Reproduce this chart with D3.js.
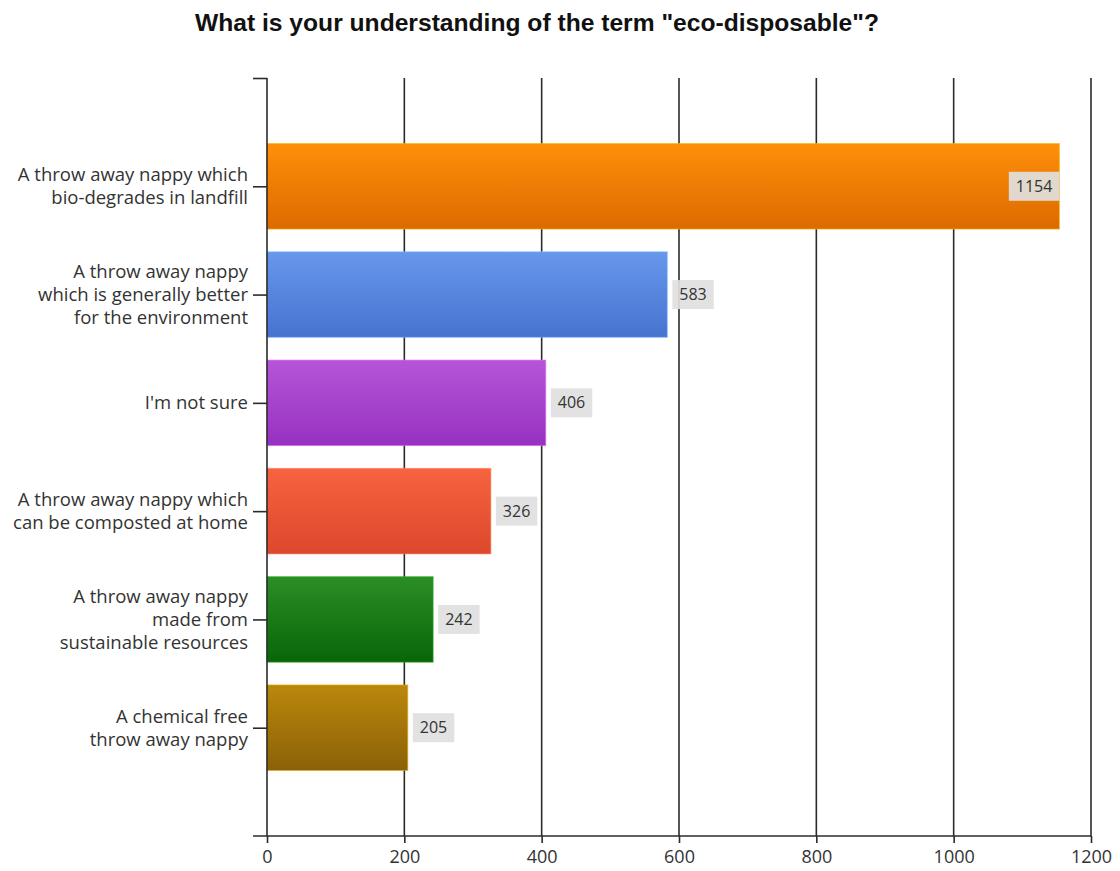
<!DOCTYPE html>
<html>
<head>
<meta charset="utf-8">
<script src="https://cdn.jsdelivr.net/npm/d3@7/dist/d3.min.js"></script>
<style>
  html, body { margin: 0; padding: 0; background: #ffffff; }
  svg { display: block; }
</style>
</head>
<body>
<script>
// Survey answers (bars, top to bottom)
const categories = [
  ["A throw away nappy which", "bio-degrades in landfill"],
  ["A throw away nappy", "which is generally better", "for the environment"],
  ["I'm not sure"],
  ["A throw away nappy which", "can be composted at home"],
  ["A throw away nappy", "made from", "sustainable resources"],
  ["A chemical free", "throw away nappy"]
];
const values = [1154, 583, 406, 326, 242, 205];
const xTicks = [0, 200, 400, 600, 800, 1000, 1200];
const barColors = [
  ["#ff8f0a", "#dc6a00"],
  ["#6797ec", "#4673cf"],
  ["#b655d8", "#9631c0"],
  ["#f7633f", "#dd472c"],
  ["#2a8e25", "#086608"],
  ["#bb880c", "#8a6107"]
];
const title = "What is your understanding of the term \"eco-disposable\"?";

const W = 1120, H = 871;
const svg = d3.select("body").append("svg").attr("width", W).attr("height", H);

const x = d3.scaleLinear().domain([0, 1200]).range([267, 1091]);
// Categories sit at positions 1..6 on a 0..7 band
const y = d3.scaleLinear().domain([0, 7]).range([78, 836]);
const barThick = 0.79;

// Gradients for bars
const defs = svg.append("defs");
barColors.forEach((c, i) => {
  const g = defs.append("linearGradient").attr("id", "g" + i)
    .attr("x1", 0).attr("y1", 0).attr("x2", 0).attr("y2", 1);
  g.append("stop").attr("offset", "0%").attr("stop-color", c[0]);
  g.append("stop").attr("offset", "100%").attr("stop-color", c[1]);
});

// Title
svg.append("text")
  .attr("x", 537).attr("y", 31)
  .attr("text-anchor", "middle")
  .attr("font-family", "Liberation Sans, Arial, sans-serif")
  .attr("font-weight", "bold")
  .attr("font-size", 24.5)
  .attr("textLength", 684)
  .attr("lengthAdjust", "spacingAndGlyphs")
  .attr("fill", "#111")
  .text(title);

const axisColor = "#2b2b2b";

// Vertical grid lines
svg.append("g").selectAll("line")
  .data(xTicks.filter(d => d > 0))
  .join("line")
  .attr("x1", d => x(d)).attr("x2", d => x(d))
  .attr("y1", y(0)).attr("y2", y(7))
  .attr("stroke", axisColor).attr("stroke-width", 1.6);

// Bars
const bars = svg.append("g");
values.forEach((v, i) => {
  const pos = i + 1;
  bars.append("rect")
    .attr("x", x(0))
    .attr("y", y(pos - barThick / 2))
    .attr("width", x(v) - x(0))
    .attr("height", y(pos + barThick / 2) - y(pos - barThick / 2))
    .attr("fill", "url(#g" + i + ")")
    .attr("stroke", d3.color(barColors[i][0]).brighter(0.6))
    .attr("stroke-opacity", 0.6)
    .attr("stroke-width", 1);
});

// Bottom axis
const xAxis = d3.axisBottom(x).tickValues(xTicks).tickSize(7).tickPadding(7).tickFormat(d3.format("d"));
const gx = svg.append("g").attr("transform", `translate(0,${y(7)})`).call(xAxis);
gx.select(".domain").remove();
gx.selectAll(".tick line").attr("stroke", axisColor).attr("stroke-width", 1.6);
gx.selectAll(".tick text")
  .attr("font-family", "Open Sans, DejaVu Sans, sans-serif")
  .attr("font-size", 18).attr("fill", "#333");
svg.append("line")
  .attr("x1", x(0) - 14).attr("x2", x(1200))
  .attr("y1", y(7)).attr("y2", y(7))
  .attr("stroke", axisColor).attr("stroke-width", 1.6);

// Left axis with ticks at the top and at each category
const yTicks = [0, 1, 2, 3, 4, 5, 6];
const yAxis = d3.axisLeft(y).tickValues(yTicks).tickSize(14).tickFormat("");
const gy = svg.append("g").attr("transform", `translate(${x(0)},0)`).call(yAxis);
gy.select(".domain").attr("d", `M0,${y(0)}V${y(7)}`).attr("stroke", axisColor).attr("stroke-width", 1.6);
gy.selectAll(".tick line").attr("stroke", axisColor).attr("stroke-width", 1.6);

// Category labels
const lineH = 23;
categories.forEach((lines, i) => {
  const cy = y(i + 1);
  const t = svg.append("text")
    .attr("text-anchor", "end")
    .attr("font-family", "Open Sans, DejaVu Sans, sans-serif")
    .attr("font-size", 18.5)
    .attr("fill", "#333");
  lines.forEach((ln, k) => {
    t.append("tspan")
      .attr("x", 248)
      .attr("y", cy + (k - (lines.length - 1) / 2) * lineH)
      .attr("dy", "0.35em")
      .text(ln);
  });
});

// Value labels
values.forEach((v, i) => {
  const cy = y(i + 1);
  const g = svg.append("g");
  const txt = g.append("text")
    .attr("font-family", "Open Sans, DejaVu Sans, sans-serif")
    .attr("font-size", 16)
    .attr("fill", "#333")
    .attr("text-anchor", "middle")
    .attr("dy", "0.35em")
    .text(v);
  const tw = txt.node().getComputedTextLength();
  const bw = tw + 14, bh = 29;
  const inside = x(v) + 6 + bw > x(1200) - 20;
  const bx = inside ? x(v) - bw : x(v) + 5;
  g.insert("rect", "text")
    .attr("x", bx).attr("y", cy - bh / 2)
    .attr("width", bw).attr("height", bh)
    .attr("fill", "#e0e0e0").attr("fill-opacity", 0.92);
  txt.attr("x", bx + bw / 2).attr("y", cy);
});
</script>
</body>
</html>
